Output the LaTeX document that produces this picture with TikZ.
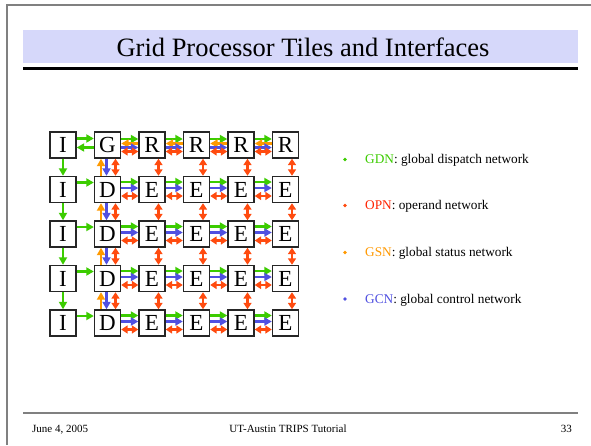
\documentclass[tikz,border=0pt]{standalone}
\usepackage{fontspec}
\setmainfont{Liberation Serif}
\usetikzlibrary{arrows.meta}
\definecolor{gdnc}{RGB}{60,204,0}
\definecolor{opnc}{RGB}{255,75,15}
\definecolor{opnt}{RGB}{255,35,0}
\definecolor{gsnc}{RGB}{255,153,0}
\definecolor{gcnc}{RGB}{80,80,225}
\definecolor{bandc}{RGB}{214,216,250}
\definecolor{framec}{RGB}{128,128,128}
\begin{document}
\begin{tikzpicture}[x=1pt,y=-1pt,
  tile/.style={draw=black!85, line width=1.4pt, fill=white, minimum size=26pt, inner sep=0pt, font=\fontsize{23}{23}\selectfont},
  net/.style={line width=2.1pt, -{Triangle[length=7.5pt,width=8pt]}},
  gdn/.style={net, color=gdnc},
  gsn/.style={net, color=gsnc},
  gcn/.style={net, color=gcnc},
  opn/.style={line width=2.1pt, {Triangle[length=6.5pt,width=8pt]}-{Triangle[length=6.5pt,width=8pt]}, color=opnc},
  legtext/.style={anchor=base west, inner sep=0pt, font=\fontsize{13.3}{15}\selectfont},
  foot/.style={inner sep=0pt, font=\fontsize{11}{13}\selectfont}]
\useasboundingbox (0,0) rectangle (591,445);
\fill[white] (0,0) rectangle (591,445);
% frame
\draw[framec, line width=2pt] (7,445) -- (7,5) -- (591,5);
% title band
\fill[bandc] (23,30) rectangle (578,63);
\fill[black] (23,66.5) rectangle (578,69.5);
\node[anchor=base, inner sep=0pt, font=\fontsize{26.5}{30}\selectfont] (title) at (303,56) {Grid Processor Tiles and Interfaces};
% footer
\draw[framec, line width=2pt] (23,413) -- (578,413);
\node[foot, anchor=base west] (date) at (32,432) {June 4, 2005};
\node[foot, anchor=base] (talk) at (288,432) {UT-Austin TRIPS Tutorial};
\node[foot, anchor=base east] (page) at (572,432) {33};
% tiles
\foreach \c/\l in {0/I,1/G,2/R,3/R,4/R,5/R}
  \node[tile] (t\c-0) at (63+44.5*\c,145) {\l};
\foreach \r in {1,...,4}
  \foreach \c/\l in {0/I,1/D,2/E,3/E,4/E,5/E}
    \node[tile] (t\c-\r) at (63+44.5*\c,145+44.5*\r) {\l};
% row 0: I <-> G
\draw[gdn] ([yshift=6.5pt]t0-0.east) -- ([yshift=6.5pt]t1-0.west);
\draw[gdn] ([yshift=-2.5pt]t1-0.west) -- ([yshift=-2.5pt]t0-0.east);
% row 0 between G/R tiles
\foreach \c [evaluate=\c as \n using int(\c+1)] in {1,...,4} {
  \draw[gdn] ([yshift=6pt]t\c-0.east) -- ([yshift=6pt]t\n-0.west);
  \draw[gsn] ([yshift=1.5pt]t\n-0.west) -- ([yshift=1.5pt]t\c-0.east);
  \draw[gcn] ([yshift=-2.5pt]t\c-0.east) -- ([yshift=-2.5pt]t\n-0.west);
  \draw[opn] ([yshift=-6.5pt]t\c-0.east) -- ([yshift=-6.5pt]t\n-0.west);
}
% rows 1-4
\foreach \r in {1,...,4} {
  \draw[gdn] ([yshift=7pt]t0-\r.east) -- ([yshift=7pt]t1-\r.west);
  \foreach \c [evaluate=\c as \n using int(\c+1)] in {1,...,4} {
    \draw[gdn] ([yshift=7.5pt]t\c-\r.east) -- ([yshift=7.5pt]t\n-\r.west);
    \draw[gcn] ([yshift=1.5pt]t\c-\r.east) -- ([yshift=1.5pt]t\n-\r.west);
    \draw[opn] ([yshift=-6.5pt]t\c-\r.east) -- ([yshift=-6.5pt]t\n-\r.west);
  }
}
% verticals
\foreach \r [evaluate=\r as \s using int(\r+1)] in {0,...,3} {
  \draw[gdn] (t0-\r.south) -- (t0-\s.north);
  \draw[gsn] ([xshift=-6.5pt]t1-\s.north) -- ([xshift=-6.5pt]t1-\r.south);
  \draw[gcn] ([xshift=-1pt]t1-\r.south) -- ([xshift=-1pt]t1-\s.north);
  \draw[opn] ([xshift=8pt]t1-\r.south) -- ([xshift=8pt]t1-\s.north);
  \foreach \c in {2,...,5}
    \draw[opn] ([xshift=6.5pt]t\c-\r.south) -- ([xshift=6.5pt]t\c-\s.north);
}
% legend
\foreach \yb/\yt/\col/\tc/\abbr/\txt in {159.5/163/gdnc/gdnc/GDN/global dispatch network, 205.5/209.5/opnc/opnt/OPN/operand network, 252.5/256.5/gsnc/gsnc/GSN/global status network, 299/303/gcnc/gcnc/GCN/global control network} {
  \fill[\col] (345,\yb) circle (1.8pt);
  \node[legtext] (leg\abbr) at (365,\yt) {\textcolor{\tc}{\abbr}: \txt};
}
\end{tikzpicture}
\end{document}
